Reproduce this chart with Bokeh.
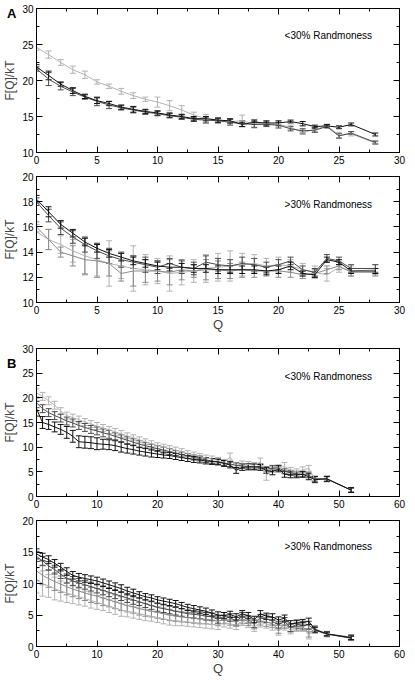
from bokeh.plotting import figure
from bokeh.models import (Range1d, LinearAxis, SingleIntervalTicker, Whisker,
                          TeeHead, ColumnDataSource, Label, Div)
from bokeh.layouts import column
from bokeh.embed import file_html
from bokeh.resources import INLINE

FONT = "Liberation Sans"

# ---------------- data ----------------
QA = [0, 1, 2, 3, 4, 5, 6, 7, 8, 9, 10, 11, 12, 13, 14, 15, 16, 17, 18, 19, 20,
      21, 22, 23, 24, 25, 26, 28]
QB = [0, 1, 2, 3, 4, 5, 6, 7, 8, 9, 10, 11, 12, 13, 14, 15, 16, 17, 18, 19, 20,
      21, 22, 23, 24, 25, 26, 27, 28, 29, 30, 31, 32, 33, 34, 35, 36, 37, 38, 39,
      40, 41, 42, 43, 44, 45, 46, 48, 52]

# Panel A, <30% randomness
a1_light = [24.6, 23.6, 22.5, 21.5, 20.8, 19.8, 19.2, 18.5, 17.9, 17.4, 17.0, 16.5, 15.9, 15.2,
            14.7, 14.5, 14.3, 14.4, 14.0, 14.0, 13.9, 13.5, 12.8, 13.2, 13.7, 12.4, 12.6, 11.3]
a1_light_err = [0.4, 0.5, 0.4, 0.5, 0.5, 0.3, 0.3, 0.4, 0.4, 0.3, 0.7, 0.7, 0.6, 0.4,
                0.6, 0.3, 0.3, 0.8, 0.6, 0.3, 0.3, 0.3, 0.3, 0.3, 0.2, 0.4, 0.3, 0.2]
a1_dark = [21.6, 20.2, 19.2, 18.4, 17.7, 17.1, 16.6, 16.2, 15.9, 15.6, 15.4, 15.1, 14.9, 14.6,
           14.5, 14.4, 14.2, 14.0, 13.9, 13.9, 13.8, 13.3, 13.0, 13.1, 13.6, 12.3, 12.7, 11.4]
a1_dark_err = [0.3, 0.9, 0.5, 0.5, 0.3, 0.6, 0.5, 0.3, 0.4, 0.3, 0.3, 0.3, 0.3, 0.3,
               0.4, 0.3, 0.4, 0.4, 0.4, 0.3, 0.4, 0.3, 0.3, 0.3, 0.2, 0.3, 0.2, 0.2]
a1_black = [21.9, 20.7, 19.5, 18.6, 17.8, 17.2, 16.8, 16.3, 16.0, 15.7, 15.5, 15.2, 15.0, 14.7,
            14.7, 14.5, 14.4, 13.9, 14.2, 14.1, 14.1, 14.3, 14.0, 13.6, 13.7, 13.5, 13.9, 12.5]
a1_black_err = [0.3, 0.6, 0.3, 0.4, 0.3, 0.4, 0.3, 0.3, 0.4, 0.3, 0.3, 0.3, 0.3, 0.3,
                0.3, 0.3, 0.3, 0.3, 0.3, 0.3, 0.3, 0.2, 0.3, 0.2, 0.2, 0.2, 0.2, 0.2]

# Panel A, >30% randomness
a2_light = [15.6, 15.0, 14.6, 14.1, 13.7, 13.4, 13.1, 12.9, 12.7, 12.6, 12.5, 12.3, 12.4, 12.5,
            12.7, 12.8, 12.9, 13.0, 13.1, 12.9, 13.0, 12.9, 12.6, 12.4, 12.2, 12.8, 12.5, 12.6]
a2_light_err = [0.6, 0.8, 0.7, 0.9, 1.4, 1.3, 1.8, 1.0, 1.8, 1.2, 1.0, 1.4, 1.0, 0.9,
                1.1, 1.1, 1.2, 0.9, 0.7, 0.6, 0.6, 0.5, 0.5, 0.5, 0.5, 0.4, 0.4, 0.4]
a2_mid = [16.0, 15.0, 14.0, 13.7, 13.4, 13.3, 13.1, 12.3, 12.5, 12.5, 12.5, 12.4, 12.6, 12.5,
          12.6, 12.6, 12.5, 12.6, 12.5, 12.5, 12.5, 12.4, 12.2, 12.3, 12.6, 12.9, 12.4, 12.4]
a2_mid_err = [0.4, 0.8, 0.4, 0.8, 1.2, 1.3, 1.0, 0.6, 1.2, 0.9, 0.8, 1.0, 0.8, 0.5,
              0.8, 0.7, 0.6, 0.6, 0.5, 0.4, 0.5, 0.4, 0.3, 0.3, 0.3, 0.3, 0.3, 0.3]
a2_dark = [18.0, 16.9, 15.9, 15.2, 14.6, 14.1, 13.7, 13.4, 13.2, 13.0, 12.8, 13.1, 12.8, 12.7,
           13.2, 13.0, 12.9, 13.1, 13.0, 12.8, 13.0, 13.3, 12.6, 12.4, 13.5, 13.3, 12.7, 12.7]
a2_dark_err = [0.3, 0.5, 0.5, 0.5, 0.6, 0.6, 0.6, 0.6, 0.5, 0.6, 0.5, 0.4, 0.5, 0.5,
               0.5, 0.5, 0.5, 0.5, 0.5, 0.4, 0.4, 0.3, 0.3, 0.3, 0.3, 0.3, 0.3, 0.3]
a2_black = [18.2, 17.2, 16.2, 15.5, 14.8, 14.3, 13.9, 13.6, 13.3, 13.1, 12.9, 12.8, 12.8, 12.7,
            12.7, 12.6, 12.6, 12.6, 12.6, 12.5, 12.6, 12.9, 12.3, 12.2, 13.4, 13.2, 12.5, 12.5]
a2_black_err = [0.3, 0.4, 0.3, 0.3, 0.3, 0.3, 0.3, 0.3, 0.3, 0.3, 0.3, 0.3, 0.3, 0.3,
                0.3, 0.3, 0.3, 0.3, 0.3, 0.3, 0.3, 0.3, 0.2, 0.2, 0.2, 0.2, 0.2, 0.2]

# Panel B, <30% randomness
b1_light = [21.0, 20.3, 19.4, 18.5, 17.3, 16.4, 16.0, 15.6, 15.1, 14.7, 14.3, 13.9, 13.5, 13.1,
            12.7, 12.3, 11.9, 11.5, 11.1, 10.7, 10.3, 10.0, 9.7, 9.4, 9.1, 8.7, 8.4, 8.1, 7.8,
            7.6, 7.3, 6.9, 8.0, 6.3, 6.6, 6.5, 6.3, 7.0, 4.3, 5.5, 5.8, 6.1, 5.3, 5.0, 5.4,
            5.7, 3.6, 3.6, 1.3]
b1_light_err = [0.8, 0.8, 0.8, 0.8, 0.7, 0.7, 0.7, 0.7, 0.7, 0.7, 0.7, 0.7, 0.7, 0.7,
                0.7, 0.6, 0.6, 0.6, 0.6, 0.6, 0.6, 0.6, 0.6, 0.6, 0.6, 0.6, 0.6, 0.6, 0.6,
                0.6, 0.6, 0.6, 0.8, 0.6, 0.6, 0.6, 0.6, 0.8, 1.0, 0.6, 0.6, 0.8, 0.6, 0.6, 0.6,
                0.6, 0.5, 0.5, 0.4]
b1_dark = [19.0, 17.8, 17.0, 16.4, 15.9, 15.3, 14.9, 14.4, 14.0, 13.6, 13.3, 12.9, 12.6, 12.2,
           11.8, 11.4, 11.0, 10.6, 10.3, 10.0, 9.7, 9.4, 9.1, 8.8, 8.5, 8.2, 7.9, 7.7, 7.4,
           7.2, 7.0, 6.8, 6.6, 6.3, 6.2, 6.1, 6.0, 6.1, 5.5, 5.8, 5.8, 5.1, 4.8, 4.6, 4.5,
           4.3, 3.6, 3.5, 1.3]
b1_dark_err = [1.0, 0.8, 0.8, 0.8, 0.8, 0.8, 0.8, 0.8, 0.8, 0.8, 0.8, 0.8, 0.8, 0.7,
               0.7, 0.7, 0.7, 0.7, 0.6, 0.6, 0.6, 0.6, 0.6, 0.5, 0.5, 0.5, 0.5, 0.5, 0.5,
               0.5, 0.5, 0.5, 0.5, 0.5, 0.5, 0.5, 0.5, 0.5, 0.5, 0.5, 0.5, 0.5, 0.5, 0.5, 0.5,
               0.5, 0.5, 0.5, 0.4]
b1_black = [17.8, 15.0, 14.6, 14.1, 13.6, 13.0, 12.2, 11.1, 11.0, 10.9, 10.7, 10.6, 10.5, 10.3,
            10.0, 9.7, 9.5, 9.2, 9.0, 8.8, 8.6, 8.4, 8.3, 8.1, 7.9, 7.7, 7.5, 7.4, 7.2,
            7.1, 7.0, 6.7, 6.4, 5.3, 5.9, 6.0, 6.0, 5.9, 5.3, 5.0, 5.6, 4.5, 4.4, 4.4, 4.5,
            4.0, 3.4, 3.6, 1.3]
b1_black_err = [1.5, 1.2, 1.0, 1.0, 1.0, 1.2, 1.2, 1.2, 1.2, 1.2, 1.2, 1.0, 1.0, 1.0,
                1.0, 0.9, 0.9, 0.8, 0.8, 0.8, 0.7, 0.6, 0.6, 0.6, 0.6, 0.6, 0.6, 0.6, 0.6,
                0.6, 0.6, 0.6, 0.6, 0.6, 0.6, 0.6, 0.6, 0.6, 0.6, 0.6, 0.6, 0.6, 0.6, 0.6, 0.6,
                0.6, 0.6, 0.5, 0.5]

# Panel B, >30% randomness
b2_light = [10.5, 10.0, 9.6, 9.2, 8.8, 8.5, 8.2, 7.9, 7.6, 7.3, 7.0, 6.7, 6.4, 6.1,
            5.8, 5.6, 5.4, 5.2, 5.0, 4.8, 4.6, 4.4, 4.2, 4.1, 4.0, 3.9, 3.8, 3.7, 3.6,
            3.5, 3.4, 3.8, 3.6, 3.4, 4.0, 3.7, 3.1, 3.8, 3.6, 3.2, 2.4, 3.2, 2.6, 3.0, 3.0,
            1.8, 2.6, 1.9, 1.4]
b2_light_err = [2.0, 2.0, 1.8, 1.8, 1.6, 1.5, 1.4, 1.3, 1.2, 1.2, 1.1, 1.0, 1.0, 1.0,
                1.0, 0.9, 0.9, 0.9, 0.9, 0.8, 0.8, 0.8, 0.8, 0.8, 0.7, 0.7, 0.7, 0.7, 0.7,
                0.7, 0.7, 0.7, 0.7, 0.7, 0.7, 0.7, 0.7, 0.7, 0.7, 0.6, 0.6, 0.6, 0.6, 0.6, 0.6,
                0.6, 0.5, 0.4, 0.4]
b2_mid = [12.0, 11.3, 10.8, 10.3, 9.9, 9.5, 9.1, 8.8, 8.5, 8.2, 8.0, 7.7, 7.4, 7.1,
          6.8, 6.5, 6.3, 6.0, 5.8, 5.6, 5.4, 5.2, 5.0, 4.8, 4.7, 4.6, 4.5, 4.4, 4.3,
          4.2, 4.0, 4.3, 4.1, 3.9, 4.3, 4.0, 3.5, 4.1, 3.9, 3.6, 2.7, 3.5, 2.9, 3.2, 3.2,
          2.1, 2.8, 2.0, 1.5]
b2_mid_err = [1.5, 1.5, 1.4, 1.4, 1.3, 1.3, 1.2, 1.2, 1.2, 1.2, 1.2, 1.2, 1.1, 1.1,
              1.1, 1.0, 1.0, 1.0, 1.0, 0.9, 0.9, 0.9, 0.9, 0.8, 0.8, 0.8, 0.8, 0.8, 0.7,
              0.7, 0.7, 0.7, 0.7, 0.7, 0.7, 0.7, 0.7, 0.7, 0.7, 0.6, 0.6, 0.6, 0.6, 0.6, 0.6,
              0.6, 0.5, 0.4, 0.4]
b2_dark = [14.3, 13.6, 12.8, 12.2, 11.5, 10.8, 10.4, 10.1, 9.8, 9.5, 9.2, 8.9, 8.6, 8.3,
           8.0, 7.7, 7.4, 7.1, 6.8, 6.5, 6.2, 6.0, 5.8, 5.6, 5.4, 5.2, 5.1, 5.0, 4.8,
           4.7, 4.3, 4.8, 4.6, 4.0, 4.8, 4.3, 3.6, 4.5, 4.4, 4.0, 3.4, 4.0, 3.0, 3.5, 3.4,
           3.4, 2.6, 2.0, 1.3]
b2_dark_err = [0.8, 0.7, 0.7, 0.7, 0.7, 0.7, 0.7, 0.7, 0.7, 0.7, 0.7, 0.7, 0.7, 0.7,
               0.7, 0.7, 0.7, 0.6, 0.6, 0.6, 0.6, 0.6, 0.6, 0.6, 0.6, 0.6, 0.6, 0.6, 0.6,
               0.6, 0.6, 0.6, 0.6, 0.6, 0.6, 0.6, 0.6, 0.6, 0.6, 0.6, 0.6, 0.6, 0.6, 0.6, 0.6,
               0.6, 0.4, 0.3, 0.3]
b2_black = [14.7, 14.2, 13.8, 13.2, 12.6, 11.9, 11.3, 11.0, 10.8, 10.6, 10.4, 10.1, 9.8, 9.5,
            9.2, 8.8, 8.5, 8.2, 7.9, 7.7, 7.4, 7.2, 7.0, 6.8, 6.5, 6.2, 6.0, 5.8, 5.6,
            5.3, 5.0, 4.9, 5.1, 4.7, 5.2, 4.9, 4.3, 5.2, 4.8, 4.7, 4.2, 4.5, 3.6, 3.7, 3.8,
            4.0, 2.7, 2.0, 1.4]
b2_black_err = [0.8, 0.6, 0.6, 0.6, 0.6, 0.6, 0.6, 0.6, 0.6, 0.6, 0.6, 0.6, 0.6, 0.6,
                0.6, 0.6, 0.6, 0.5, 0.5, 0.5, 0.5, 0.5, 0.5, 0.5, 0.5, 0.5, 0.5, 0.5, 0.5,
                0.5, 0.5, 0.5, 0.5, 0.5, 0.5, 0.5, 0.5, 0.5, 0.5, 0.5, 0.5, 0.5, 0.5, 0.5, 0.5,
                0.5, 0.4, 0.3, 0.3]

C_LIGHT = "#b3b3b3"
C_MID = "#8a8a8a"
C_DARK = "#4a4a4a"
C_BLACK = "#111111"

Y_LABEL = "F[Q]/kT"
X_LABEL = "Q"
PANEL_LETTERS = ["A", "B"]


def style_axis(ax, labels=True):
    ax.axis_line_color = "black"
    ax.axis_line_width = 1
    ax.major_tick_in = 6
    ax.major_tick_out = 0
    ax.minor_tick_in = 3
    ax.minor_tick_out = 0
    ax.major_tick_line_color = "black"
    ax.minor_tick_line_color = "black"
    ax.major_label_text_font = FONT
    if labels:
        ax.major_label_text_color = "black"
        ax.major_label_text_font_size = "10px"
        ax.major_label_standoff = 3
    else:
        ax.major_label_text_color = None
        ax.major_label_text_font_size = "1px"
        ax.major_label_standoff = 0


def make_panel(q, series, xr, yr, xint, yint, height, top, bottom, note, note_xy,
               show_xlabel, head):
    p = figure(width=407, height=height, x_range=Range1d(*xr), y_range=Range1d(*yr),
               output_backend="svg", toolbar_location=None,
               min_border_left=29, min_border_right=8,
               min_border_top=top, min_border_bottom=bottom)
    p.xgrid.visible = False
    p.ygrid.visible = False
    p.outline_line_color = "black"
    p.background_fill_color = "white"
    p.border_fill_color = "white"

    xax = p.below[0]
    yax = p.left[0]
    xax.ticker = SingleIntervalTicker(interval=xint, num_minor_ticks=2)
    yax.ticker = SingleIntervalTicker(interval=yint, num_minor_ticks=2)
    style_axis(xax, True)
    style_axis(yax, True)
    top_ax = LinearAxis(ticker=SingleIntervalTicker(interval=xint, num_minor_ticks=2))
    right_ax = LinearAxis(ticker=SingleIntervalTicker(interval=yint, num_minor_ticks=2))
    style_axis(top_ax, False)
    style_axis(right_ax, False)
    p.add_layout(top_ax, "above")
    p.add_layout(right_ax, "right")

    yax.axis_label = Y_LABEL
    yax.axis_label_text_font = FONT
    yax.axis_label_text_font_size = "12px"
    yax.axis_label_text_font_style = "normal"
    yax.axis_label_standoff = 2
    if show_xlabel:
        xax.axis_label = X_LABEL
        xax.axis_label_text_font = FONT
        xax.axis_label_text_font_size = "13px"
        xax.axis_label_text_font_style = "normal"
        xax.axis_label_standoff = 0

    for y, err, color in series:
        src = ColumnDataSource(dict(
            x=q, y=y,
            lo=[v - e for v, e in zip(y, err)],
            hi=[v + e for v, e in zip(y, err)]))
        p.line("x", "y", source=src, line_color=color, line_width=1)
        w = Whisker(base="x", lower="lo", upper="hi", source=src,
                    line_color=color, line_width=1,
                    lower_head=TeeHead(size=head, line_color=color, line_width=1),
                    upper_head=TeeHead(size=head, line_color=color, line_width=1))
        p.add_layout(w)

    p.add_layout(Label(x=note_xy[0], y=note_xy[1], text=note, text_font=FONT,
                       text_font_size="10px", text_color="black",
                       text_baseline="middle", text_align="left"))
    return p


def letter_div(letter, top, left):
    return Div(text=letter,
               styles={"font-family": FONT, "font-size": "13px", "font-weight": "bold",
                       "color": "black", "line-height": "15px",
                       "position": "absolute", "top": f"{top}px", "left": f"{left}px",
                       "z-index": "10"})


p1 = make_panel(QA, [(a1_light, a1_light_err, C_LIGHT), (a1_dark, a1_dark_err, C_DARK),
                     (a1_black, a1_black_err, C_BLACK)],
                (0, 30), (10, 30), 5, 5, 168, 8, 16, "<30% Randmoness", (20.5, 26.3),
                False, 6)
p2 = make_panel(QA, [(a2_light, a2_light_err, C_LIGHT), (a2_mid, a2_mid_err, C_MID),
                     (a2_dark, a2_dark_err, C_DARK), (a2_black, a2_black_err, C_BLACK)],
                (0, 30), (10, 20), 5, 2, 166, 8, 32, ">30% Randmoness", (20.5, 17.8),
                True, 6)
p3 = make_panel(QB, [(b1_light, b1_light_err, C_LIGHT), (b1_dark, b1_dark_err, C_DARK),
                     (b1_black, b1_black_err, C_BLACK)],
                (0, 60), (0, 30), 10, 5, 178, 14, 16, "<30% Randmoness", (41, 24.4),
                False, 6)
p4 = make_panel(QB, [(b2_light, b2_light_err, C_LIGHT), (b2_mid, b2_mid_err, C_MID),
                     (b2_dark, b2_dark_err, C_DARK), (b2_black, b2_black_err, C_BLACK)],
                (0, 60), (0, 20), 10, 5, 166, 8, 30, ">30% Randmoness", (41, 15.9),
                True, 6)

layout = column(p1, p2, p3, p4, letter_div(PANEL_LETTERS[0], 1, 2),
                letter_div(PANEL_LETTERS[1], 351, 2), spacing=0)
open("out.html", "w").write(file_html(layout, INLINE))
